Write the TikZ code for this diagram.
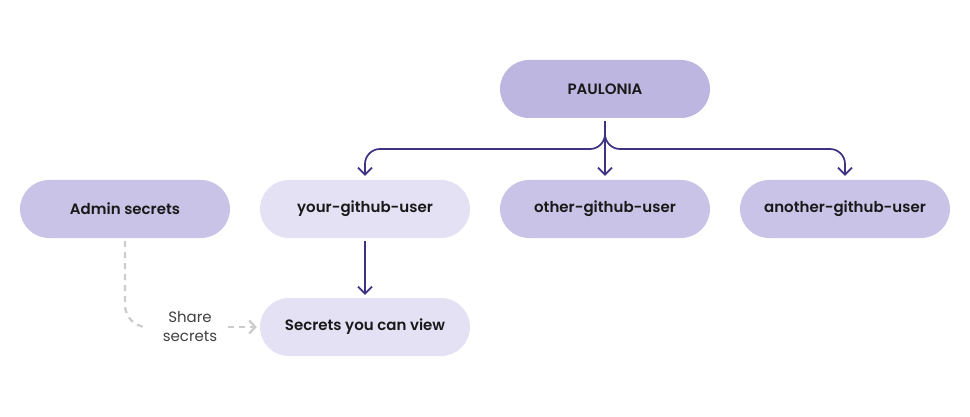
\documentclass[tikz,border=0pt]{standalone}
\usepackage{fontspec}
\setmainfont{Poppins}[BoldFont={Poppins SemiBold}]
\usetikzlibrary{arrows.meta,positioning}

\definecolor{boxdark}{HTML}{BDB6E1}
\definecolor{boxmid}{HTML}{C9C4E7}
\definecolor{boxlight}{HTML}{E4E1F5}
\definecolor{linkcol}{HTML}{3E3282}
\definecolor{sharecol}{HTML}{CCCCCC}

\tikzset{
  pill/.style={shape=rectangle, rounded corners=29pt, minimum width=210pt, minimum height=58pt,
    font=\fontsize{15}{17}\selectfont\bfseries, text=black!90},
  flow/.style={draw=linkcol, line width=1.7pt, -{Straight Barb[length=7pt,width=14pt,line width=1.7pt]}},
  shareflow/.style={draw=sharecol, line width=2.3pt, dash pattern=on 6pt off 5pt}
}

\begin{document}
\begin{tikzpicture}[x=1pt,y=-1pt]
\useasboundingbox (0,0) rectangle (970,417);

\node (paulonia) at (605,89) [pill, fill=boxdark] {PAULONIA};
\node (admin) at (125,209) [pill, fill=boxmid] {Admin secrets};
\node (yours) at (365,209) [pill, fill=boxlight] {your-github-user};
\node (other) at (605,209) [pill, fill=boxmid] {other-github-user};
\node (another) at (845,209) [pill, fill=boxmid] {another-github-user};
\node (view) at (365,327) [pill, fill=boxlight] {Secrets you can view};
\node (share) at (190,327) [align=center, text=black!75, font=\fontsize{15}{19}\selectfont] {Share\\secrets};
\coordinate (fork) at (605,149);

\draw [flow, rounded corners=15pt, shorten >=4pt] ([yshift=-3pt]paulonia.south) |- (yours.north |- fork) -- (yours.north);
\draw [flow, rounded corners=15pt, shorten >=4pt] ([yshift=-3pt]paulonia.south) |- (another.north |- fork) -- (another.north);
\draw [flow, shorten >=4pt] ([yshift=-3pt]paulonia.south) -- (other.north);
\draw [flow, shorten >=3pt] ([yshift=-3pt]yours.south) -- (view.north);

\draw [shareflow, rounded corners=22pt] ([yshift=-3pt]admin.south) |- ([xshift=-12pt]share.west);
\draw [shareflow, -{Straight Barb[length=6pt,width=13pt,line width=2.3pt]}, shorten >=3pt] ([xshift=7pt]share.east) -- (view.west);
\end{tikzpicture}
\end{document}
